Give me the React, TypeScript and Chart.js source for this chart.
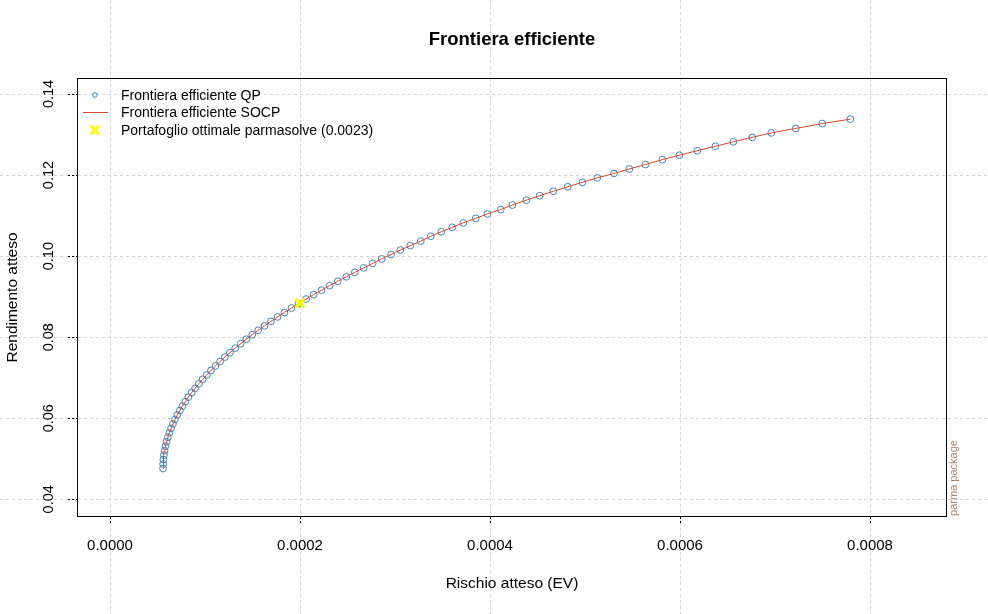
import React, { useEffect, useRef } from 'react';
import { Chart, registerables } from 'chart.js';

Chart.register(...registerables);

const chartTitle = 'Frontiera efficiente';
const xAxisTitle = 'Rischio atteso (EV)';
const yAxisTitle = 'Rendimento atteso';
const watermarkText = 'parma package';
const seriesLabels = [
  'Frontiera efficiente QP',
  'Frontiera efficiente SOCP',
  'Portafoglio ottimale parmasolve (0.0023)',
];

const frontierRisk = [
  0.0000558, 0.0000559, 0.0000562, 0.0000567, 0.0000575, 0.0000584, 0.0000596, 0.0000609, 0.0000625, 0.0000642,
  0.0000662, 0.0000684, 0.0000708, 0.0000734, 0.0000762, 0.0000793, 0.0000825, 0.0000859, 0.0000896, 0.0000935,
  0.0000975, 0.0001018, 0.0001063, 0.000111, 0.0001159, 0.000121, 0.0001263, 0.0001318, 0.0001376, 0.0001435,
  0.0001497, 0.000156, 0.0001626, 0.0001694, 0.0001764, 0.0001836, 0.000191, 0.0001986, 0.0002064, 0.0002144,
  0.0002227, 0.0002311, 0.0002398, 0.0002487, 0.0002577, 0.000267, 0.0002765,
  0.000286, 0.0002958, 0.0003056, 0.0003161, 0.0003271, 0.0003376, 0.0003487, 0.0003603, 0.0003719, 0.0003849,
  0.0003972, 0.0004113, 0.0004235, 0.0004382, 0.0004523, 0.0004666, 0.0004818, 0.0004972, 0.0005129, 0.0005305,
  0.0005466, 0.0005635, 0.0005814, 0.0005993, 0.0006182, 0.0006372, 0.0006561, 0.0006761, 0.0006961, 0.0007218,
  0.0007498, 0.0007793,
];

const frontierReturn = [
  0.0476, 0.0487, 0.0498, 0.0509, 0.052, 0.0531, 0.0542, 0.0553, 0.0564, 0.0575,
  0.0586, 0.0597, 0.0608, 0.0619, 0.063, 0.0641, 0.0652, 0.0663, 0.0674, 0.0685,
  0.0696, 0.0707, 0.0718, 0.0729, 0.074, 0.0751, 0.0762, 0.0773, 0.0784, 0.0795,
  0.0806, 0.0817, 0.0828, 0.0839, 0.085, 0.0861, 0.0872, 0.0883, 0.0894, 0.0905,
  0.0916, 0.0927, 0.0938, 0.0949, 0.096, 0.0971, 0.0982,
  0.0993, 0.1004, 0.1015, 0.1026, 0.1037, 0.1049, 0.106, 0.1071, 0.1082, 0.1093,
  0.1104, 0.1115, 0.1126, 0.1138, 0.1149, 0.116, 0.1171, 0.1182, 0.1193, 0.1204,
  0.1215, 0.1226, 0.1238, 0.1249, 0.126, 0.1271, 0.1282, 0.1293, 0.1304, 0.1315,
  0.1327, 0.1338,
];

const optimalRisk = [0.0002];
const optimalReturn = [0.0884];

const xTickValues = [0, 0.0002, 0.0004, 0.0006, 0.0008];
const xTickLabels = ['0.0000', '0.0002', '0.0004', '0.0006', '0.0008'];
const yTickValues = [0.04, 0.06, 0.08, 0.1, 0.12, 0.14];
const yTickLabels = ['0.04', '0.06', '0.08', '0.10', '0.12', '0.14'];
const xRange = [-0.0000337, 0.00088];
const yRange = [0.03588, 0.1437];

const FONT = "'Liberation Sans', Arial, sans-serif";
const QP_COLOR = '#4682b4';
const SOCP_COLOR = '#d24a32';
const OPT_COLOR = '#ffff00';

const decorPlugin = {
  id: 'decor',
  beforeDraw(chart: any) {
    const { ctx, width, height, chartArea: a, scales } = chart;
    const x = scales.x;
    const y = scales.y;
    ctx.save();
    ctx.fillStyle = '#ffffff';
    ctx.fillRect(0, 0, width, height);
    ctx.strokeStyle = '#d3d3d3';
    ctx.lineWidth = 1;
    ctx.setLineDash([3, 3]);
    x.ticks.forEach((t: any) => {
      const px = Math.round(x.getPixelForValue(t.value)) + 0.5;
      ctx.beginPath();
      ctx.moveTo(px, 0);
      ctx.lineTo(px, height);
      ctx.stroke();
    });
    y.ticks.forEach((t: any) => {
      const py = Math.round(y.getPixelForValue(t.value)) + 0.5;
      ctx.beginPath();
      ctx.moveTo(0, py);
      ctx.lineTo(width, py);
      ctx.stroke();
    });
    ctx.strokeStyle = '#000000';
    ctx.setLineDash([2, 2]);
    x.ticks.forEach((t: any) => {
      const px = Math.round(x.getPixelForValue(t.value)) + 0.5;
      ctx.beginPath();
      ctx.moveTo(px, a.bottom + 1);
      ctx.lineTo(px, a.bottom + 9);
      ctx.stroke();
    });
    y.ticks.forEach((t: any) => {
      const py = Math.round(y.getPixelForValue(t.value)) + 0.5;
      ctx.beginPath();
      ctx.moveTo(a.left - 10, py);
      ctx.lineTo(a.left - 1, py);
      ctx.stroke();
    });
    ctx.setLineDash([]);
    ctx.strokeStyle = '#000000';
    ctx.strokeRect(a.left - 0.5, a.top - 0.5, a.right - a.left + 1, a.bottom - a.top + 1);
    ctx.restore();
  },
  afterDraw(chart: any) {
    const { ctx, chartArea: a } = chart;
    const labels = chart.data.datasets.map((d: any) => d.label);
    ctx.save();
    ctx.fillStyle = '#000000';
    ctx.textAlign = 'center';
    ctx.textBaseline = 'middle';
    const cx = (a.left + a.right) / 2;
    ctx.font = `bold 18.5px ${FONT}`;
    ctx.fillText(chartTitle, cx, 40);
    ctx.font = `15.5px ${FONT}`;
    ctx.fillText(xAxisTitle, cx, 584);
    ctx.save();
    ctx.translate(12.5, (a.top + a.bottom) / 2);
    ctx.rotate(-Math.PI / 2);
    ctx.fillText(yAxisTitle, 0, 0);
    ctx.restore();
    ctx.save();
    ctx.fillStyle = '#a8846a';
    ctx.font = `11px ${FONT}`;
    ctx.translate(954, 478);
    ctx.rotate(-Math.PI / 2);
    ctx.fillText(watermarkText, 0, 0);
    ctx.restore();
    const lx = 95;
    const rows = [95, 112.5, 130];
    ctx.strokeStyle = QP_COLOR;
    ctx.lineWidth = 1;
    ctx.beginPath();
    ctx.arc(lx, rows[0], 2.3, 0, Math.PI * 2);
    ctx.stroke();
    ctx.strokeStyle = SOCP_COLOR;
    ctx.beginPath();
    ctx.moveTo(83, rows[1]);
    ctx.lineTo(108, rows[1]);
    ctx.stroke();
    ctx.strokeStyle = OPT_COLOR;
    ctx.lineWidth = 3;
    const s = 4.2;
    ctx.beginPath();
    ctx.moveTo(lx - s, rows[2] - s);
    ctx.lineTo(lx + s, rows[2] + s);
    ctx.moveTo(lx - s, rows[2] + s);
    ctx.lineTo(lx + s, rows[2] - s);
    ctx.stroke();
    ctx.fillStyle = '#000000';
    ctx.textAlign = 'left';
    ctx.font = `14px ${FONT}`;
    labels.forEach((lab: string, i: number) => {
      ctx.fillText(lab, 121, rows[i] + 1);
    });
    ctx.restore();
  },
};

export default function App() {
  const canvasRef = useRef<HTMLCanvasElement | null>(null);

  useEffect(() => {
    if (!canvasRef.current) return;
    const frontier = frontierRisk.map((r, i) => ({ x: r, y: frontierReturn[i] }));
    const optimal = optimalRisk.map((r, i) => ({ x: r, y: optimalReturn[i] }));
    const chart = new Chart(canvasRef.current, {
      type: 'scatter',
      data: {
        datasets: [
          {
            label: seriesLabels[0],
            data: frontier,
            showLine: false,
            pointStyle: 'circle',
            pointRadius: 3.4,
            pointBorderWidth: 1,
            pointBorderColor: QP_COLOR,
            pointBackgroundColor: 'rgba(0,0,0,0)',
            borderColor: QP_COLOR,
            backgroundColor: 'rgba(0,0,0,0)',
            order: 3,
          },
          {
            label: seriesLabels[1],
            data: frontier,
            showLine: true,
            pointRadius: 0,
            borderColor: SOCP_COLOR,
            borderWidth: 1,
            backgroundColor: 'rgba(0,0,0,0)',
            order: 2,
          },
          {
            label: seriesLabels[2],
            data: optimal,
            showLine: false,
            pointStyle: 'crossRot',
            pointRadius: 6,
            pointBorderWidth: 3.2,
            pointBorderColor: OPT_COLOR,
            borderColor: OPT_COLOR,
            backgroundColor: OPT_COLOR,
            order: 1,
          },
        ],
      },
      options: {
        responsive: false,
        animation: false,
        events: [],
        layout: { padding: { top: 79, right: 42, left: 0, bottom: 0 } },
        plugins: {
          legend: { display: false },
          title: { display: false },
          tooltip: { enabled: false },
        },
        scales: {
          x: {
            type: 'linear',
            position: 'bottom',
            min: xRange[0],
            max: xRange[1],
            grid: { display: false, drawTicks: false },
            border: { display: false },
            afterBuildTicks: (scale: any) => {
              scale.ticks = xTickValues.map((v) => ({ value: v }));
            },
            afterFit: (scale: any) => {
              scale.height = 98;
            },
            ticks: {
              padding: 21,
              color: '#000000',
              font: { family: FONT, size: 15 },
              maxRotation: 0,
              minRotation: 0,
              callback: (_v: any, i: number) => xTickLabels[i],
            },
          },
          y: {
            type: 'linear',
            position: 'left',
            min: yRange[0],
            max: yRange[1],
            grid: { display: false, drawTicks: false },
            border: { display: false },
            afterBuildTicks: (scale: any) => {
              scale.ticks = yTickValues.map((v) => ({ value: v }));
            },
            afterFit: (scale: any) => {
              scale.width = 78;
            },
            ticks: {
              padding: 14.5,
              color: '#000000',
              crossAlign: 'center',
              minRotation: 90,
              maxRotation: 90,
              font: { family: FONT, size: 14.5 },
              callback: (_v: any, i: number) => yTickLabels[i],
            },
          },
        },
      },
      plugins: [decorPlugin],
    } as any);
    return () => chart.destroy();
  }, []);

  return (
    <div style={{ position: 'absolute', left: 0, top: 0, width: 988, height: 614, background: '#ffffff' }}>
      <canvas ref={canvasRef} width={988} height={614} style={{ display: 'block' }} />
    </div>
  );
}
